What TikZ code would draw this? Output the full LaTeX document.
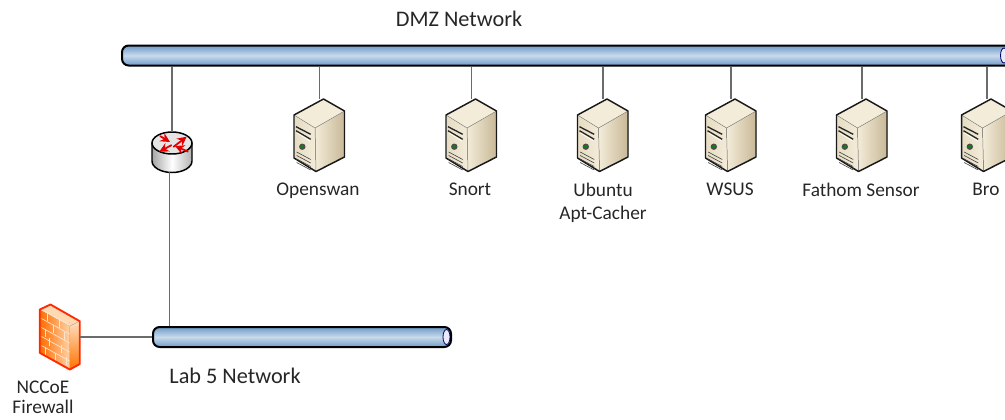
\documentclass[tikz,border=0pt]{standalone}
\usepackage{fontspec}
\setmainfont{Carlito}
\usetikzlibrary{positioning,arrows.meta}
\definecolor{buslow}{HTML}{6F9AC8}
\definecolor{buslight}{HTML}{C9DAEC}
\definecolor{linkgray}{HTML}{6B6B6B}
\definecolor{wallred}{HTML}{FF2A00}
\definecolor{servercream}{HTML}{F3ECD9}
\definecolor{servermid}{HTML}{E6DCC3}
\definecolor{servertan}{HTML}{C8B896}
\tikzset{
    bus/.style={
        rectangle, draw=black, line width=1.5pt, rounded corners=5pt, minimum height=15pt,
        top color=buslow, bottom color=buslow, middle color=buslight, inner sep=0pt
    },
    buscap/.style={draw=black!60!blue, line width=0.6pt, fill=white!92!blue},
    link/.style={draw=linkgray, line width=0.9pt},
    iconbox/.style={rectangle, inner sep=0pt, outer sep=0pt},
    tag/.style={font=\fontsize{14.5}{17}\selectfont, text=black!85, align=center, inner sep=0pt},
    nettag/.style={font=\fontsize{16.7}{20}\selectfont, text=black!85, inner sep=0pt},
    redarrow/.style={red!90!black, line width=1.3pt, -{Stealth[length=7pt,width=7pt]}},
    servericon/.pic={
        \fill [left color=servercream, right color=servertan] (-4.5,-7) -- (25,-24) -- (25,22) -- (-3.5,36.5) -- cycle;
        \fill [left color=servermid, right color=servercream] (-25.5,-20) -- (-4.5,-7) -- (-3.5,36.5) -- (-25.5,23) -- cycle;
        \fill [servercream] (-25.5,-20) -- (4,-36) -- (25,-24) -- (-4.5,-7) -- cycle;
        \draw [black!50, line width=0.35pt] (-25.5,-20) -- (-4.5,-7) -- (25,-24) (-4.5,-7) -- (-3.5,36.5);
        \draw [black!90, line width=1.1pt, line join=round] (-25.5,-20) -- (4,-36) -- (25,-24) -- (25,22) -- (-3.5,36.5) -- (-25.5,23) -- cycle;
        \draw [black!85, line width=1pt] (-23.5,-8.3) -- (-8.8,-0.7) (-23.5,-4.3) -- (-8.8,4.3);
        \draw [white, line width=0.5pt] (-22.5,-2) -- (-9.5,6);
        \fill [black!70] (-17.2,11.7) circle (3.2);
        \fill [green!55!black] (-17.2,11.7) circle (1.7);
        \foreach \ventstep in {0,3.5,7,10.5} {
            \draw [black!75, line width=0.45pt] (-22.8,17+\ventstep) -- (-8.8,24.5+\ventstep);
        }
    },
    routericon/.pic={
        \draw [black, line width=1.1pt, left color=black!35, right color=black!30, middle color=white] (-20,-9) -- (-20,9) arc [start angle=180, end angle=0, x radius=20, y radius=11.5] -- (20,-9) -- cycle;
        \draw [black, line width=1.1pt, fill=white!90!black] (0,-9) ellipse [x radius=20, y radius=11];
        \draw [redarrow] (1.3,-5) -- (14.7,-15.3);
        \draw [redarrow] (-0.3,-7) -- (-12.7,-0.3);
        \draw [redarrow] (-12,-16) -- (-2,-10);
        \draw [redarrow] (16.3,-0.3) -- (3,-6);
    },
    firewallicon/.pic={
        \fill [left color=orange!85!red, right color=orange!35!white] (-19.7,-27.5) -- (10.3,-10.8) -- (10.3,32.5) -- (-19.7,15.8) -- cycle;
        \fill [orange!30!white] (-19.7,-27.5) -- (-9,-32.5) -- (20.3,-15.8) -- (10.3,-10.8) -- cycle;
        \fill [top color=orange!25!white, bottom color=orange!90!red] (10.3,-10.8) -- (20.3,-15.8) -- (20.3,27) -- (10.3,32.5) -- cycle;
        \foreach \brickrow in {-18,-9,0,9,18,27} {
            \draw [white!80!orange, line width=0.5pt] (-18,\brickrow-9.5) -- (10,\brickrow+6);
        }
        \foreach \brickx/\bricky in {-12/-24,0/-17,-6/-12,-14/-8,5/-5,-10/1,2/8,-14/10,-4/16,7/20} {
            \draw [white!80!orange, line width=0.5pt] (\brickx,\bricky) -- (\brickx,\bricky+8);
        }
        \draw [wallred, line width=1.4pt, line join=round] (-19.7,-27.5) -- (-9,-32.5) -- (20.3,-15.8) -- (20.3,27) -- (10.3,32.5) -- (-19.7,15.8) -- cycle;
    }
}
\begin{document}
\begin{tikzpicture}[x=0.75pt, y=-0.75pt]
    \useasboundingbox (0,0) rectangle (1005,419);

    \node (dmz) [bus, minimum width=668pt, anchor=west] at (121,55.5) {};
    \path [buscap] (1004,55.5) ellipse [x radius=3.5, y radius=7.5];
    \node (lab) [bus, minimum width=223.5pt, anchor=west] at (152,337) {};
    \path [buscap] (446.5,337) ellipse [x radius=3.5, y radius=7.5];

    \node (dmztag) [nettag] at (459,19) {DMZ Network};
    \node (labtag) [nettag] at (235,376) {Lab 5 Network};

    \node (router) [iconbox, minimum width=30pt, minimum height=30pt] at (172,152) {};
    \pic at (router) {routericon};

    \node (firewall) [iconbox, minimum width=30pt, minimum height=49pt] at (59.5,337) {};
    \pic at (firewall) {firewallicon};
    \node (fwtag) [tag, anchor=north] at (43,380.5) {NCCoE\\[-1.5pt]Firewall};

    \node (openswan) [iconbox, minimum width=38pt, minimum height=54pt] at (319.5,135) {};
    \node (snort) [iconbox, minimum width=38pt, minimum height=54pt] at (471.5,135) {};
    \node (ubuntu) [iconbox, minimum width=38pt, minimum height=54pt] at (603,135) {};
    \node (wsus) [iconbox, minimum width=38pt, minimum height=54pt] at (731,135) {};
    \node (fathom) [iconbox, minimum width=38pt, minimum height=54pt] at (862,135) {};
    \node (bro) [iconbox, minimum width=38pt, minimum height=54pt] at (987,135) {};

    \path [link]
        (dmz.south -| router.north) -- (router.north)
        (dmz.south -| openswan.north) -- (openswan.north)
        (dmz.south -| snort.north) -- (snort.north)
        (dmz.south -| ubuntu.north) -- (ubuntu.north)
        (dmz.south -| wsus.north) -- (wsus.north)
        (dmz.south -| fathom.north) -- (fathom.north)
        (dmz.south -| bro.north) -- (bro.north)
        ([xshift=-1.6pt]router.south) -- ([xshift=-1.6pt]router.south |- lab.north)
        (firewall.east) -- (lab.west);

    \pic at (openswan) {servericon};
    \pic at (snort) {servericon};
    \pic at (ubuntu) {servericon};
    \pic at (wsus) {servericon};
    \pic at (fathom) {servericon};
    \pic at (bro) {servericon};

    \node [tag, anchor=north] at (318,183) {Openswan};
    \node [tag, anchor=north] at (470,183) {Snort};
    \node [tag, anchor=north] at (603,183) {Ubuntu\\Apt-Cacher};
    \node [tag, anchor=north] at (730,183) {WSUS};
    \node [tag, anchor=north] at (861,183) {Fathom Sensor};
    \node [tag, anchor=north] at (986,183) {Bro};
\end{tikzpicture}
\end{document}
